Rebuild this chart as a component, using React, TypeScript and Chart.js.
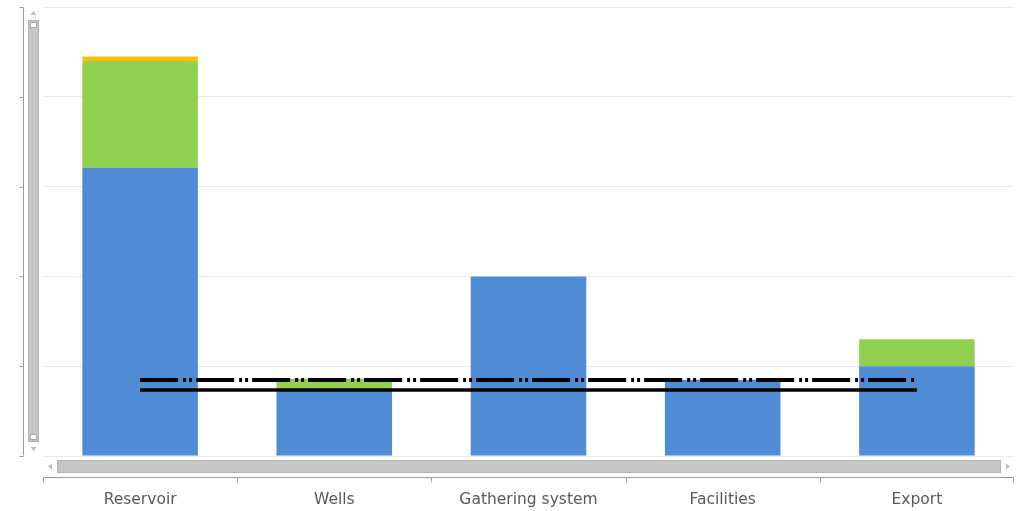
import React, { useEffect, useRef } from "react";
import { Chart, registerables } from "chart.js";

Chart.register(...registerables);

// Categories along the value chain
const categories = ["Reservoir", "Wells", "Gathering system", "Facilities", "Export"];

// Stacked bar components
const baseValues = [3.21, 0.75, 2.0, 0.85, 1.0];
const upsideValues = [1.19, 0.11, 0, 0, 0.3];
const otherValues = [0.05, 0, 0, 0, 0];

// Reference lines across the chain
const targetLine = [0.735, 0.735, 0.735, 0.735, 0.735];
const limitLine = [0.846, 0.846, 0.846, 0.846, 0.846];

// Value axis range
const yMin = 0;
const yMax = 5;
const yStep = 1;

const AXIS_GRAY = "#9a9a9a";
const BAR_GRAY = "#c6c6c6";

// Draws the bracket axes and the scrollbars around the plot area
const framePlugin = {
  id: "frame",
  afterDraw(chart: any) {
    const ctx = chart.ctx as CanvasRenderingContext2D;
    const area = chart.chartArea;
    const yScale = chart.scales.y;
    const xScale = chart.scales.x;
    ctx.save();

    // vertical bracket axis with ticks pointing left
    const axX = 23.5;
    ctx.strokeStyle = AXIS_GRAY;
    ctx.lineWidth = 1;
    ctx.beginPath();
    ctx.moveTo(axX, Math.round(area.top) + 0.5);
    ctx.lineTo(axX, Math.round(area.bottom) - 0.5);
    yScale.ticks.forEach((t: any) => {
      const py = Math.round(yScale.getPixelForValue(t.value)) + 0.5;
      ctx.moveTo(axX - 4, py);
      ctx.lineTo(axX, py);
    });
    ctx.stroke();

    // vertical scrollbar
    const vx = 28, vw = 11;
    const vTop = 20, vBottom = 442;
    ctx.fillStyle = BAR_GRAY;
    ctx.fillRect(vx, vTop, vw, vBottom - vTop);
    ctx.strokeStyle = "#b4b4b4";
    ctx.strokeRect(vx + 0.5, vTop + 0.5, vw - 1, vBottom - vTop - 1);
    ctx.fillStyle = "#ffffff";
    ctx.strokeStyle = "#a8a8a8";
    ctx.fillRect(vx + 2, vTop + 2, 7, 6);
    ctx.strokeRect(vx + 2.5, vTop + 2.5, 6, 5);
    ctx.fillRect(vx + 2, vBottom - 8, 7, 6);
    ctx.strokeRect(vx + 2.5, vBottom - 7.5, 6, 5);
    ctx.fillStyle = "#bdbdbd";
    ctx.beginPath();
    ctx.moveTo(vx + vw / 2, 11);
    ctx.lineTo(vx + vw / 2 + 3, 15);
    ctx.lineTo(vx + vw / 2 - 3, 15);
    ctx.closePath();
    ctx.fill();
    ctx.beginPath();
    ctx.moveTo(vx + vw / 2, 451);
    ctx.lineTo(vx + vw / 2 + 3, 447);
    ctx.lineTo(vx + vw / 2 - 3, 447);
    ctx.closePath();
    ctx.fill();

    // horizontal scrollbar
    const hy = 460, hh = 13;
    const hLeft = 57, hRight = 1001;
    ctx.fillStyle = BAR_GRAY;
    ctx.fillRect(hLeft, hy, hRight - hLeft, hh);
    ctx.strokeStyle = "#b4b4b4";
    ctx.strokeRect(hLeft + 0.5, hy + 0.5, hRight - hLeft - 1, hh - 1);
    ctx.fillStyle = "#bdbdbd";
    ctx.beginPath();
    ctx.moveTo(48, hy + hh / 2);
    ctx.lineTo(52, hy + hh / 2 - 3);
    ctx.lineTo(52, hy + hh / 2 + 3);
    ctx.closePath();
    ctx.fill();
    ctx.beginPath();
    ctx.moveTo(1010, hy + hh / 2);
    ctx.lineTo(1006, hy + hh / 2 - 3);
    ctx.lineTo(1006, hy + hh / 2 + 3);
    ctx.closePath();
    ctx.fill();

    // horizontal bracket axis with ticks at category boundaries
    const axY = 477.5;
    ctx.strokeStyle = AXIS_GRAY;
    ctx.beginPath();
    ctx.moveTo(Math.round(area.left) + 0.5, axY);
    ctx.lineTo(Math.round(area.right) - 0.5, axY);
    const n = categories.length;
    const half = (xScale.getPixelForValue(1) - xScale.getPixelForValue(0)) / 2;
    for (let i = 0; i <= n; i++) {
      const px =
        i < n ? xScale.getPixelForValue(i) - half : xScale.getPixelForValue(n - 1) + half;
      const sx = Math.min(Math.max(Math.round(px) + 0.5, area.left + 0.5), area.right - 0.5);
      ctx.moveTo(sx, axY);
      ctx.lineTo(sx, axY + 5);
    }
    ctx.stroke();

    ctx.restore();
  },
};

export default function App() {
  const canvasRef = useRef<HTMLCanvasElement | null>(null);

  useEffect(() => {
    const canvas = canvasRef.current;
    if (!canvas) return;
    const chart = new Chart(canvas, {
      type: "bar",
      data: {
        labels: categories,
        datasets: [
          {
            type: "line",
            label: "Limit",
            data: limitLine,
            borderColor: "#000000",
            borderWidth: 4,
            borderDash: [38, 5, 3, 3, 3, 4],
            pointRadius: 0,
            fill: false,
            stack: "limit",
            order: 0,
          } as any,
          {
            type: "line",
            label: "Target",
            data: targetLine,
            borderColor: "#000000",
            borderWidth: 3.5,
            pointRadius: 0,
            fill: false,
            stack: "target",
            order: 0,
          } as any,
          {
            label: "Base",
            data: baseValues,
            backgroundColor: "#508cd5",
            borderWidth: 0,
            stack: "bars",
            order: 1,
          },
          {
            label: "Upside",
            data: upsideValues,
            backgroundColor: "#92d050",
            borderWidth: 0,
            stack: "bars",
            order: 1,
          },
          {
            label: "Other",
            data: otherValues,
            backgroundColor: "#ffc000",
            borderWidth: 0,
            stack: "bars",
            order: 1,
          },
        ],
      },
      options: {
        responsive: false,
        animation: false,
        devicePixelRatio: 1,
        layout: { padding: { top: 7, right: 6, left: 0, bottom: 0 } },
        plugins: {
          legend: { display: false },
          tooltip: { enabled: false },
        },
        datasets: {
          bar: { barPercentage: 0.595, categoryPercentage: 1 },
        },
        scales: {
          x: {
            stacked: true,
            grid: { display: false, drawTicks: false },
            border: { display: false },
            ticks: {
              padding: 35,
              color: "#595959",
              font: { family: "'DejaVu Sans', sans-serif", size: 15.5 },
              maxRotation: 0,
              autoSkip: false,
            },
            afterFit(scale: any) {
              scale.height = 55;
            },
          },
          y: {
            stacked: true,
            min: yMin,
            max: yMax,
            ticks: { display: false, stepSize: yStep },
            grid: { color: "#ebebeb", lineWidth: 1, drawTicks: false },
            border: { display: false },
            afterFit(scale: any) {
              scale.width = 43;
            },
          },
        },
      },
      plugins: [framePlugin],
    });
    return () => chart.destroy();
  }, []);

  return (
    <div style={{ position: "fixed", left: 0, top: 0, width: 1020, height: 511, background: "#ffffff" }}>
      <canvas ref={canvasRef} width={1020} height={511} style={{ display: "block" }} />
    </div>
  );
}
